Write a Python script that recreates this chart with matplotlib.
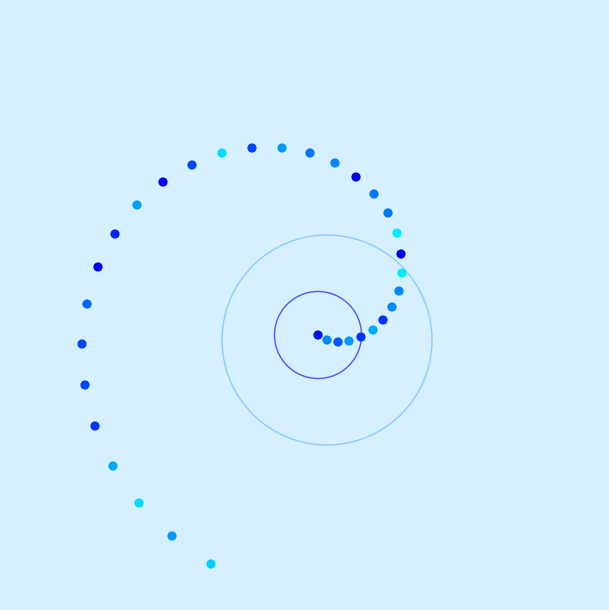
import matplotlib
matplotlib.use("Agg")
import matplotlib.pyplot as plt
from matplotlib.patches import Circle

# spiral points (x, y in chart units, y grows downward)
xs = [318, 327, 338, 349, 361, 373, 383, 392, 399, 402, 401, 397, 388, 374, 356,
      335, 310, 282, 252, 222, 192, 163, 137, 115, 98, 87, 82, 85, 95, 113, 139, 172, 211]
ys = [335, 340, 342, 341, 337, 330, 320, 307, 291, 273, 254, 233, 213, 194, 177,
      163, 153, 148, 148, 153, 165, 182, 205, 234, 267, 304, 344, 385, 426, 466, 503, 536, 564]
colors = ["#0011ee", "#0088ff", "#0055ff", "#0099ff", "#0033ff", "#00a8ff", "#0033ff",
          "#0088ff", "#0088ff", "#00eeff", "#0000ee", "#00eeff", "#0077ff", "#0077ff",
          "#0000ee", "#0088ff", "#0077ff", "#0099ff", "#0044ff", "#00ddff", "#0044ff",
          "#0000ee", "#00a0ff", "#0022ff", "#0000ee", "#0066ff", "#0044ff", "#0044ff",
          "#0033ff", "#00a8ff", "#00ddff", "#0099ff", "#00ccff"]

# reference rings
ring_x = [327, 318]
ring_y = [340, 335]
ring_r = [105, 43.5]
ring_colors = ["#90cbff", "#4a5cf0"]

bg = "#d6f0ff"
fig = plt.figure(figsize=(6.09, 6.10), dpi=100, facecolor=bg)
ax = fig.add_axes([0, 0, 1, 1])
ax.set_facecolor(bg)
ax.set_xlim(0, 609)
ax.set_ylim(610, 0)
ax.set_aspect("equal")
ax.axis("off")

for cx, cy, r, c in zip(ring_x, ring_y, ring_r, ring_colors):
    ax.add_patch(Circle((cx, cy), r, fill=False, edgecolor=c, linewidth=1.0))

ax.scatter(xs, ys, s=44, c=colors, linewidths=0, zorder=3)

fig.savefig("out.png", dpi=100, facecolor=bg)
